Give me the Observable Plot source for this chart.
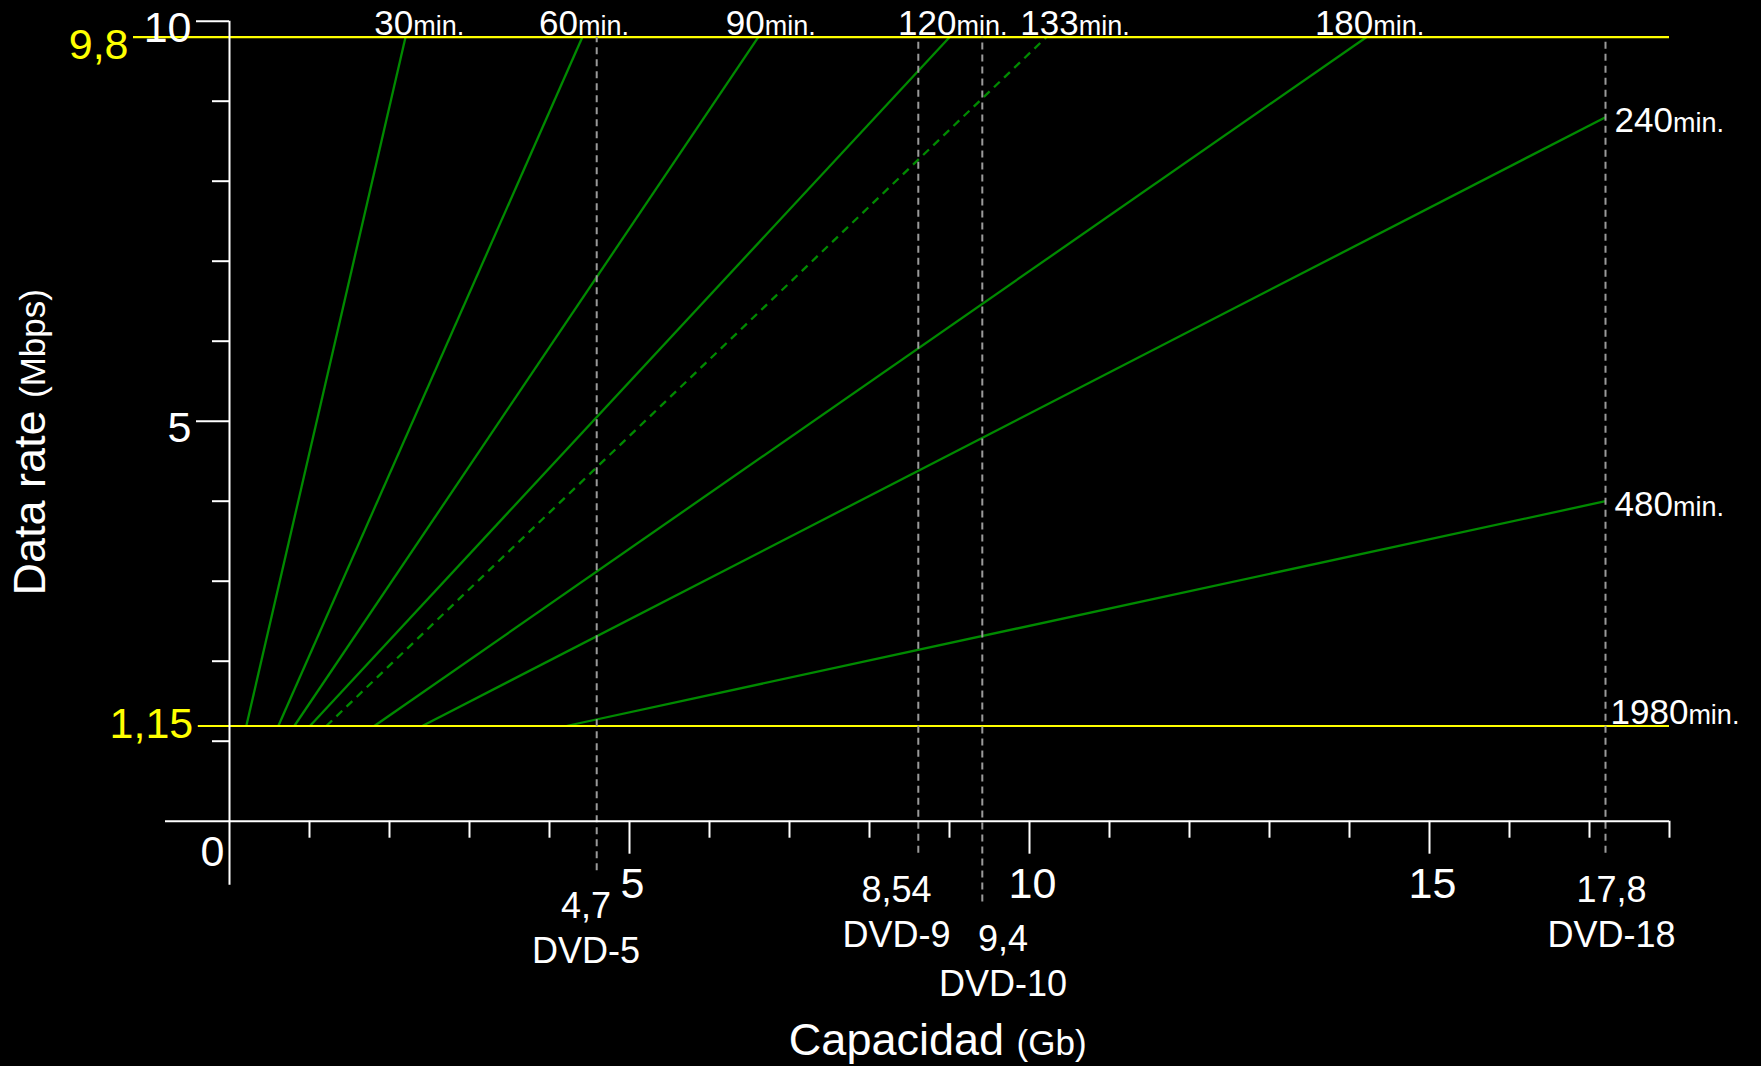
<!DOCTYPE html>
<html>
<head>
<meta charset="utf-8">
<script src="https://cdn.jsdelivr.net/npm/d3@7"></script>
<script src="https://cdn.jsdelivr.net/npm/@observablehq/plot@0.6"></script>
<style>
  html, body { margin: 0; padding: 0; background: #000; }
  #chart svg { display: block; }
</style>
</head>
<body>
<div id="chart"></div>
<script>
// ---------- data ----------
const durations       = [30, 60, 90, 120, 133, 180, 240, 480];          // minutes
const capAtLowRate    = [0.21, 0.61, 0.81, 1.005, 1.21, 1.81, 2.41, 4.21]; // Gb where each line meets the low rate
const capAtEnd        = [2.20, 4.41, 6.61, 9.00, 10.21, 14.21, 17.2, 17.2]; // Gb at the line's upper end
const rateAtEnd       = [9.8, 9.8, 9.8, 9.8, 9.8, 9.8, 8.8, 4.0];         // Mbps at the line's upper end
const dashedDurations = [133];

const rateLimitValues = [9.8, 1.19];
const rateLimitLabels = ["9,8", "1,15"];
const rateLimitStart  = [-1.2, -0.39];
const capacityEnd     = 18;

const discNames       = ["DVD-5", "DVD-9", "DVD-10", "DVD-18"];
const discCapLabels   = ["4,7", "8,54", "9,4", "17,8"];
const discPositions   = [4.59, 8.61, 9.41, 17.2];
const discLineBottoms = [-0.62, -0.4, -1.01, -0.4];

const lowRateDuration = 1980; // minutes at the low rate on a DVD-18

const xMinorTicks = [1, 2, 3, 4, 6, 7, 8, 9, 11, 12, 13, 14, 16, 17, 18];
const xMajorTicks = [5, 10, 15];
const yMinorTicks = [1, 2, 3, 4, 6, 7, 8, 9];
const yMajorTicks = [5, 10];
const originLabel = ["0"];
const axisExtentMin = -0.8;

const xTitle = ["Capacidad ", "(Gb)"];
const yTitle = ["Data rate ", "(Mbps)"];

// ---------- tables ----------
const topRate = rateLimitValues[0];
const lowRate = rateLimitValues[1];
const lines = durations.map((m, i) => ({
  minutes: m, x1: capAtLowRate[i], y1: lowRate, x2: capAtEnd[i], y2: rateAtEnd[i],
  dashed: dashedDurations.includes(m)
}));
const topLines = lines.filter(d => d.y2 === topRate);
const sideLines = lines.filter(d => d.y2 !== topRate);
const discs = discNames.map((name, i) => ({name, cap: discCapLabels[i], x: discPositions[i], bottom: discLineBottoms[i]}));
const limits = rateLimitValues.map((r, i) => ({rate: r, label: rateLimitLabels[i], start: rateLimitStart[i]}));
const lowRateLabel = [{x: discPositions[3], y: lowRate, text: `${lowRateDuration}min.`}];

// ---------- style ----------
const GREEN = "#008a00", YELLOW = "#ffff00", GRAY = "#9a9a9a", WHITE = "#ffffff";
const FONT = "'Liberation Sans', Arial, Helvetica, sans-serif";
const topLabelDx = {30: 7.7, 60: -4.4, 90: 6.5, 120: 7, 133: 32.4, 180: 7};
const discLabelDx = {"DVD-5": -10.7, "DVD-9": -21.8, "DVD-10": 20.8, "DVD-18": 6};
const discLabelDy = {"DVD-5": 142, "DVD-9": 126, "DVD-10": 174.3, "DVD-18": 126};
const limitLabelDy = [21.3, 11.7];
const fmt = d => String(d);

const marks = [
  // green duration lines
  Plot.link(lines.filter(d => !d.dashed), {x1: "x1", y1: "y1", x2: "x2", y2: "y2", stroke: GREEN, strokeWidth: 2.3}),
  Plot.link(lines.filter(d => d.dashed), {x1: "x1", y1: "y1", x2: "x2", y2: "y2", stroke: GREEN, strokeWidth: 2.3, strokeDasharray: "8,6"}),
  // yellow rate limits
  Plot.ruleY(limits, {y: "rate", x1: "start", x2: () => capacityEnd, stroke: YELLOW, strokeWidth: 2.2}),
  // disc capacities
  Plot.ruleX(discs, {x: "x", y1: "bottom", y2: () => topRate, stroke: GRAY, strokeWidth: 2, strokeDasharray: "7,5"}),
  // axis lines
  Plot.ruleY([0], {x1: () => axisExtentMin, x2: () => capacityEnd, stroke: WHITE, strokeWidth: 2}),
  Plot.ruleX([0], {y1: () => axisExtentMin, y2: () => 10, stroke: WHITE, strokeWidth: 2}),
  // ticks
  Plot.axisX(xMinorTicks, {tickSize: 17, fill: "none", stroke: WHITE, strokeWidth: 2, label: null}),
  Plot.axisX(xMajorTicks, {tickSize: 33, fill: "none", stroke: WHITE, strokeWidth: 2, label: null}),
  Plot.axisY(yMinorTicks, {tickSize: 17, fill: "none", stroke: WHITE, strokeWidth: 2, label: null}),
  Plot.axisY(yMajorTicks, {tickSize: 33, fill: "none", stroke: WHITE, strokeWidth: 2, label: null}),
  // tick labels
  Plot.axisX(xMajorTicks, {tickSize: 0, tickPadding: 76.3, tickFormat: fmt, lineAnchor: "bottom", dx: 3, fontSize: 43, fill: WHITE, stroke: "none", label: null}),
  Plot.axisY(yMajorTicks, {tickSize: 0, tickPadding: 38, tickFormat: fmt, lineAnchor: "bottom", dy: 21, fontSize: 43, fill: WHITE, stroke: "none", label: null}),
  Plot.text(originLabel, {x: () => 0, y: () => 0, text: d => d, textAnchor: "end", lineAnchor: "bottom", dx: -5, dy: 44.3, fontSize: 43, fill: WHITE}),
  // rate limit labels
  ...limits.map((d, i) => Plot.text([d], {x: "start", y: "rate", text: "label", textAnchor: "end", lineAnchor: "bottom", dx: -5, dy: limitLabelDy[i], fontSize: 43, fill: YELLOW})),
  // duration labels at the top
  ...topLines.flatMap(d => [
    Plot.text([d], {x: "x2", y: "y2", text: d => String(d.minutes), textAnchor: "end", lineAnchor: "bottom", dx: topLabelDx[d.minutes], dy: -2.2, fontSize: 35, fill: WHITE}),
    Plot.text([d], {x: "x2", y: "y2", text: () => "min.", textAnchor: "start", lineAnchor: "bottom", dx: topLabelDx[d.minutes], dy: -2.2, fontSize: 27, fill: WHITE})
  ]),
  // duration labels at the right
  Plot.text(sideLines, {x: "x2", y: "y2", text: d => `${d.minutes}min.`, textAnchor: "start", lineAnchor: "bottom", dx: 9, dy: 14.3, fontSize: 35, fill: WHITE}),
  Plot.text(lowRateLabel, {x: "x", y: "y", text: "text", textAnchor: "start", lineAnchor: "bottom", dx: 5, dy: -2.5, fontSize: 35, fill: WHITE}),
  // disc labels
  ...discs.map(d => Plot.text([d], {x: "x", y: () => 0, text: d => `${d.cap}\n${d.name}`, textAnchor: "middle", lineAnchor: "bottom", lineHeight: 1.25, dx: discLabelDx[d.name], dy: discLabelDy[d.name], fontSize: 36, fill: WHITE}))
];

const chart = Plot.plot({
  width: 1761,
  height: 1066,
  marginLeft: 229,
  marginRight: 92,
  marginTop: 20.7,
  marginBottom: 245.3,
  x: {domain: [0, 18], axis: null, label: null},
  y: {domain: [0, 10], axis: null, label: null},
  style: {background: "#000", color: WHITE, fontFamily: FONT, overflow: "visible"},
  marks
});

const svg = d3.select(chart);

// smaller "min." inside the side labels
svg.selectAll("text").each(function () {
  if (this.querySelector("tspan")) return;
  const m = /^(\d+)(min\.)$/.exec(this.textContent);
  if (!m) return;
  this.textContent = m[1];
  d3.select(this).append("tspan").attr("font-size", 27).text(m[2]);
});

// axis titles
const xt = svg.append("text")
  .attr("x", 937.7).attr("y", 1055)
  .attr("text-anchor", "middle").attr("fill", WHITE).attr("font-family", FONT);
xt.append("tspan").attr("font-size", 45).text(xTitle[0]);
xt.append("tspan").attr("font-size", 35).text(xTitle[1]);

const yt = svg.append("text")
  .attr("transform", "translate(45,442.3) rotate(-90)")
  .attr("text-anchor", "middle").attr("fill", WHITE).attr("font-family", FONT);
yt.append("tspan").attr("font-size", 45).text(yTitle[0]);
yt.append("tspan").attr("font-size", 35).text(yTitle[1]);

document.getElementById("chart").append(chart);
</script>
</body>
</html>
